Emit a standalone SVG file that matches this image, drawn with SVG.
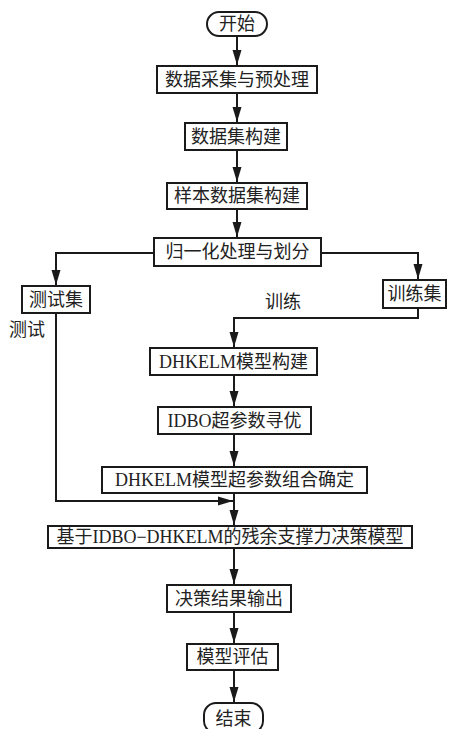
<svg xmlns="http://www.w3.org/2000/svg" width="450" height="729" viewBox="0 0 450 729">
<style>
.box{fill:#fff;stroke:#1a1a1a;stroke-width:2}
.t{font-family:"Liberation Serif","Noto Sans CJK SC",serif;font-size:18px;fill:#222;text-anchor:middle;dominant-baseline:central}
.c{fill:none;stroke:#1a1a1a;stroke-width:2}
</style>
<defs>
<marker id="ah" markerUnits="userSpaceOnUse" markerWidth="16" markerHeight="10" refX="15" refY="5" orient="auto">
<path d="M0,0.5 L15,5 L0,9.5 Z" fill="#1a1a1a"/>
</marker>
</defs>
<g id="connectors">
<path class="c" d="M237,36 V65" marker-end="url(#ah)"/>
<path class="c" d="M237,93 V122" marker-end="url(#ah)"/>
<path class="c" d="M237,150 V182" marker-end="url(#ah)"/>
<path class="c" d="M237,209 V237" marker-end="url(#ah)"/>
<path class="c" d="M154,253 H56 V285" marker-end="url(#ah)"/>
<path class="c" d="M321,253 H418 V279" marker-end="url(#ah)"/>
<path class="c" d="M418,308 V318 H234 V347" marker-end="url(#ah)"/>
<path class="c" d="M234,375 V406" marker-end="url(#ah)"/>
<path class="c" d="M234,434 V466" marker-end="url(#ah)"/>
<path class="c" d="M56,313 V501 H233" marker-end="url(#ah)"/>
<path class="c" d="M234,493 V525" marker-end="url(#ah)"/>
<path class="c" d="M234,548 V584" marker-end="url(#ah)"/>
<path class="c" d="M234,612 V643" marker-end="url(#ah)"/>
<path class="c" d="M234,670 V702" marker-end="url(#ah)"/>
<text class="t" x="283" y="302">训练</text>
<text class="t" x="27" y="330">测试</text>
</g>
<g id="start"><rect class="box" x="207" y="12" width="60" height="24" rx="12"/><text class="t" x="237" y="24">开始</text></g>
<g id="n1"><rect class="box" x="157" y="66" width="160" height="27"/><text class="t" x="237" y="79.5">数据采集与预处理</text></g>
<g id="n2"><rect class="box" x="185" y="123" width="102" height="27"/><text class="t" x="236" y="136.5">数据集构建</text></g>
<g id="n3"><rect class="box" x="167" y="183" width="140" height="26"/><text class="t" x="237" y="196">样本数据集构建</text></g>
<g id="n4"><rect class="box" x="154" y="238" width="167" height="28"/><text class="t" x="237.5" y="252">归一化处理与划分</text></g>
<g id="test"><rect class="box" x="22" y="286" width="68" height="27"/><text class="t" x="56" y="299.5">测试集</text></g>
<g id="train"><rect class="box" x="383" y="280" width="63" height="28"/><text class="t" x="414.5" y="294">训练集</text></g>
<g id="n5"><rect class="box" x="150" y="348" width="167" height="27"/><text class="t" x="233.5" y="361.5">DHKELM模型构建</text></g>
<g id="n6"><rect class="box" x="158" y="407" width="153" height="27"/><text class="t" x="234.5" y="420.5">IDBO超参数寻优</text></g>
<g id="n7"><rect class="box" x="102" y="467" width="265" height="26"/><text class="t" x="234.5" y="480">DHKELM模型超参数组合确定</text></g>
<g id="n8"><rect class="box" x="48" y="526" width="364" height="22"/><text class="t" x="230" y="537">基于IDBO−DHKELM的残余支撑力决策模型</text></g>
<g id="n9"><rect class="box" x="167" y="585" width="124" height="27"/><text class="t" x="229" y="598.5">决策结果输出</text></g>
<g id="n10"><rect class="box" x="187" y="644" width="91" height="26"/><text class="t" x="232.5" y="657">模型评估</text></g>
<g id="end"><rect class="box" x="204" y="703" width="59" height="30" rx="12"/><text class="t" x="233.5" y="719">结束</text></g>
</svg>
